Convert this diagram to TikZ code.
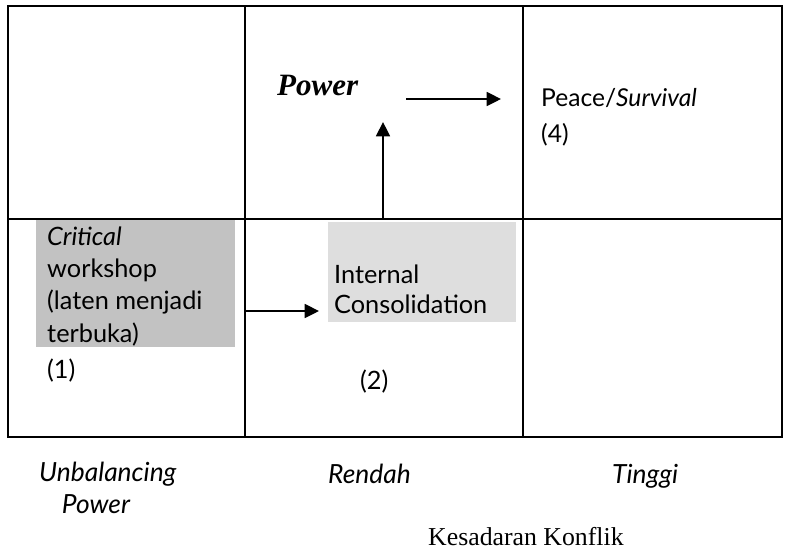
\documentclass[tikz,border=0pt]{standalone}
\usepackage{fontspec}
\setmainfont{Liberation Serif}
\newfontfamily\sansf{Lato}
\usetikzlibrary{arrows.meta}

\begin{document}
\begin{tikzpicture}[x=0.03cm, y=-0.03cm, line cap=butt, line join=miter,
    grid/.style={line width=1.9pt},
    flow/.style={line width=1.3pt},
    txt/.style={font=\sansf\fontsize{21.6}{27.5}\selectfont, inner sep=0pt, anchor=base west, align=left},
    axislbl/.style={font=\sansf\itshape\fontsize{22.5}{26.5}\selectfont, inner sep=0pt, anchor=base west},
    >={Triangle[length=4.3mm, width=4.2mm]}]
  \useasboundingbox (0,0) rectangle (786,552);
  % --- shaded fields -------------------------------------------------
  \coordinate (crA) at (36,219);
  \coordinate (crB) at (235,347);
  \coordinate (icA) at (328,222);
  \coordinate (icB) at (516,322);
  \fill[gray!48] (crA) rectangle (crB);
  \fill[gray!26] (icA) rectangle (icB);
  % --- the grid ------------------------------------------------------
  \coordinate (nw) at (8,6);
  \coordinate (se) at (782,437);
  \draw[grid] (nw) rectangle (se);
  \draw[grid] (245,6) -- (245,437);
  \draw[grid] (523,6) -- (523,437);
  \draw[grid] (8,219) -- (782,219);
  % --- cell texts (base = last line) ---------------------------------
  \node[txt] (crit) at (47,342) {\itshape Critical\\workshop\\(laten menjadi\\terbuka)};
  \node[txt] (one) at (47,378) {(1)};
  \node[txt, font=\sansf\fontsize{21.6}{25.6}\selectfont] (intc) at (334,313) {Internal\\Consolidation};
  \node[txt] (two) at (360,389) {(2)};
  \node[font=\bfseries\itshape\fontsize{26.5}{30}\selectfont, inner sep=0pt, anchor=base west] (pow) at (277,95) {Power};
  \node[txt, font=\sansf\fontsize{21}{30}\selectfont] (peace) at (541,142) {Peace/\textit{Survival}\\(4)};
  % --- arrows --------------------------------------------------------
  \coordinate (a1s) at (245,311);
  \coordinate (a1e) at (319,311);
  \draw[flow, ->] (a1s) -- (a1e);
  \coordinate (a2s) at (383,219);
  \coordinate (a2e) at (383,122);
  \draw[flow, ->] (a2s) -- (a2e);
  \coordinate (a3s) at (406,99);
  \coordinate (a3e) at (501,99);
  \draw[flow, ->] (a3s) -- (a3e);
  % --- axis labels ---------------------------------------------------
  \node[axislbl, align=left] (unbal) at (39,513) {Unbalancing\\\hspace*{0.68cm}Power};
  \node[axislbl] (rendah) at (328,483) {Rendah};
  \node[axislbl] (tinggi) at (612,483) {Tinggi};
  \node[font=\fontsize{22}{26}\selectfont, inner sep=0pt, anchor=base west] (kk) at (428,545) {Kesadaran Konflik};
\end{tikzpicture}
\end{document}
